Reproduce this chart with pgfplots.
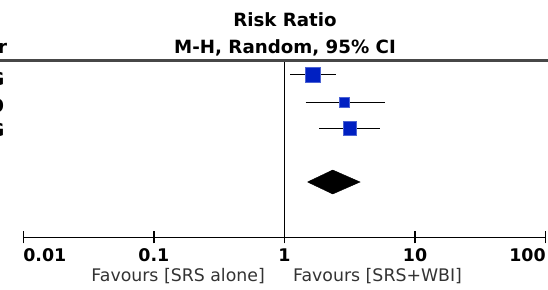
\documentclass[border=0pt]{standalone}
\usepackage{pgfplots}
\pgfplotsset{compat=1.18}
\usepackage{fontspec}
\setmainfont{DejaVu Sans}
\definecolor{rmblue}{RGB}{0,32,194}
\begin{document}
\begin{tikzpicture}[x=1bp,y=1bp]
\begin{axis}[
  at={(23.3bp,51.7bp)}, anchor=south west,
  scale only axis, width=522.4bp, height=176.6bp,
  xmode=log, xmin=0.01, xmax=100, ymin=51.7, ymax=228.3,
  axis x line=bottom, axis y line=none,
  x axis line style={-, line width=1.4bp},
  xtick={0.01,0.1,1,10,100},
  xticklabels={\rlap{0.01},0.1,1,10,\llap{100}},
  xminorticks=false,
  tick align=center, major tick length=12bp,
  xtick style={line width=1.3bp, black},
  xticklabel style={font=\bfseries\fontsize{17.5}{17.5}\selectfont, anchor=north, inner sep=0pt, yshift=-5bp},
  clip=false,
]
\draw[line width=1.5bp] (axis cs:1,51.7) -- (axis cs:1,228.3);
% confidence intervals
\addplot[black, line width=1.4bp] coordinates {(1.11,214.7) (2.47,214.7)};
\addplot[black, line width=1.4bp] coordinates {(1.45,186.7) (5.89,186.7)};
\addplot[black, line width=1.4bp] coordinates {(1.84,160.7) (5.36,160.7)};
% point estimates
\addplot[only marks, mark=square*, mark size=7.5bp, color=rmblue, mark options={draw=rmblue!70!white, line width=0.5bp, fill=rmblue}] coordinates {(1.66,214.7)};
\addplot[only marks, mark=square*, mark size=5bp, color=rmblue, mark options={draw=rmblue!70!white, line width=0.5bp, fill=rmblue}] coordinates {(2.88,186.7)};
\addplot[only marks, mark=square*, mark size=6.85bp, color=rmblue, mark options={draw=rmblue!70!white, line width=0.5bp, fill=rmblue}] coordinates {(3.16,160.7)};
% pooled estimate
\addplot[fill=black, draw=black] coordinates {(1.50,107) (2.34,119) (3.79,107) (2.34,95) (1.50,107)};
\end{axis}
\draw[line width=2.6bp, black!72] (0,228.3) -- (548,228.3);
\node[anchor=base, inner sep=0pt, font=\bfseries\fontsize{18.3}{18.3}\selectfont] at (285,262.3) {Risk Ratio};
\node[anchor=base, inner sep=0pt, font=\bfseries\fontsize{18.3}{18.3}\selectfont] at (285,235.7) {M-H, Random, 95\% CI};
\node[anchor=base east, inner sep=0pt, font=\fontsize{17.4}{17.4}\selectfont, text=black!80] at (265,7.3) {Favours [SRS alone]};
\node[anchor=base west, inner sep=0pt, font=\fontsize{17.4}{17.4}\selectfont, text=black!80] at (293,7.3) {Favours [SRS+WBI]};
\node[anchor=base east, inner sep=0pt, font=\bfseries\fontsize{18.3}{18.3}\selectfont] at (7.3,235.7) {Year};
\node[anchor=base east, inner sep=0pt, font=\bfseries\fontsize{18}{18}\selectfont] at (4.5,204) {JROSG};
\node[anchor=base east, inner sep=0pt, font=\bfseries\fontsize{18}{18}\selectfont] at (4.5,177) {2009};
\node[anchor=base east, inner sep=0pt, font=\bfseries\fontsize{18}{18}\selectfont] at (4.5,153) {JROSG};
\pgfresetboundingbox
\useasboundingbox (0,0) rectangle (548,289);
\end{tikzpicture}
\end{document}
